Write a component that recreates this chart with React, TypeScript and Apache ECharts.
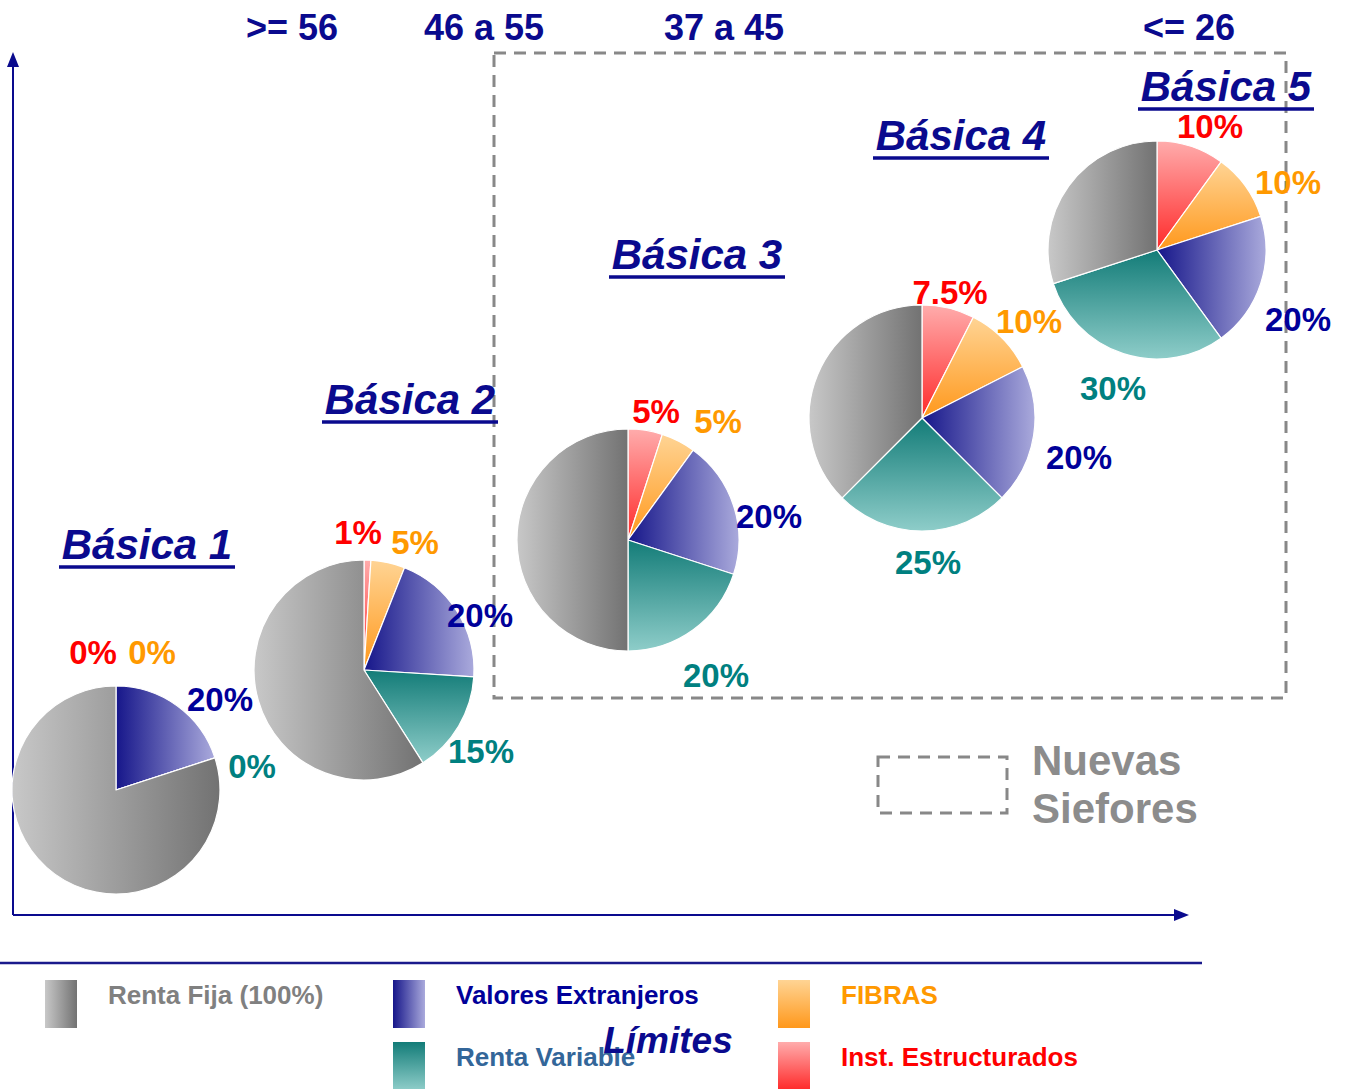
import React, { useEffect, useRef } from 'react';
import * as echarts from 'echarts';

// ---------- data ----------
const categories = ['Inst. Estructurados', 'FIBRAS', 'Valores Extranjeros', 'Renta Variable', 'Renta Fija (100%)'];
const funds = ['Básica 1', 'Básica 2', 'Básica 3', 'Básica 4', 'Básica 5'];
const instEstructurados = [0, 1, 5, 7.5, 10];
const fibras = [0, 5, 5, 10, 10];
const valoresExtranjeros = [20, 20, 20, 20, 20];
const rentaVariable = [0, 15, 20, 25, 30];
const rentaFija = [80, 59, 50, 37.5, 30];
const ageRanges = ['>= 56', '46 a 55', '37 a 45', '<= 26'];
const boxLegend = ['Nuevas', 'Siefores'];
const limitsLabel = 'Límites';

// ---------- layout / style ----------
const FONT = '"Liberation Sans", Arial, sans-serif';
const NAVY = '#0a0a8e';
const pieCenters = [[116, 790], [364, 670], [628, 540], [922, 418], [1157, 250]];
const pieRadii = [104, 110, 111, 113, 109];
const labelPos = [
  [[93, 652], [152, 652], [220, 699], [252, 766]],
  [[358, 532], [415, 542], [480, 615], [481, 751]],
  [[656, 411], [718, 421], [769, 516], [716, 675]],
  [[950, 292], [1029, 321], [1079, 457], [928, 562]],
  [[1210, 126], [1288, 182], [1298, 319], [1113, 388]],
];
const titleCenters = [[147, 544], [410, 399], [697, 254], [961, 135], [1226, 86]];
const headerX = [292, 484, 724, 1189];
const labelColors = ['#ff0000', '#ff9900', '#000099', '#008080'];

const lin = (x2: number, y2: number, c0: string, c1: string) => ({
  type: 'linear', x: 0, y: 0, x2, y2,
  colorStops: [{ offset: 0, color: c0 }, { offset: 1, color: c1 }],
});
const sliceColors = [
  lin(0, 1, '#ffacac', '#ff2a2a'),
  lin(0, 1, '#ffd494', '#ff981c'),
  lin(1, 0, '#16168a', '#aaaadc'),
  lin(0, 1, '#137c78', '#8ecdc9'),
  lin(1, 0, '#c8c8c8', '#727272'),
];
const legendColors = ['#ff0000', '#ff9900', '#000099', '#336699', '#808080'];
const legendPos = [[778, 1042], [778, 980], [393, 980], [393, 1042], [45, 980]];

export default function App() {
  const ref = useRef<HTMLDivElement>(null);
  useEffect(() => {
    if (!ref.current) return;
    const chart = echarts.init(ref.current, undefined, { renderer: 'svg' });
    const seriesValues = [instEstructurados, fibras, valoresExtranjeros, rentaVariable, rentaFija];

    const series = funds.map((f, i) => ({
      type: 'pie',
      name: f,
      center: pieCenters[i],
      radius: pieRadii[i],
      startAngle: 90,
      clockwise: true,
      avoidLabelOverlap: false,
      silent: true,
      itemStyle: { borderColor: '#ffffff', borderWidth: 1.2 },
      label: {
        show: true,
        position: 'outside',
        formatter: (p: any) => `${p.value}%`,
        fontSize: 33,
        fontWeight: 'bold',
        fontFamily: FONT,
      },
      labelLine: { show: false },
      labelLayout: (params: any) => {
        const pos = labelPos[i][params.dataIndex];
        if (!pos) return {};
        return { x: pos[0], y: pos[1], align: 'center', verticalAlign: 'middle' };
      },
      data: categories.map((c, k) => ({
        name: c,
        value: seriesValues[k][i],
        itemStyle: { color: sliceColors[k] },
        label: k < 4 ? { show: true, color: labelColors[k] } : { show: false },
      })),
    }));

    const graphic: any[] = [];
    // axes
    graphic.push({ type: 'line', shape: { x1: 13, y1: 64, x2: 13, y2: 915 }, style: { stroke: NAVY, lineWidth: 2 } });
    graphic.push({ type: 'polygon', shape: { points: [[13, 52], [7, 67], [19, 67]] }, style: { fill: NAVY } });
    graphic.push({ type: 'line', shape: { x1: 13, y1: 915, x2: 1176, y2: 915 }, style: { stroke: NAVY, lineWidth: 2 } });
    graphic.push({ type: 'polygon', shape: { points: [[1189, 915], [1174, 909], [1174, 921]] }, style: { fill: NAVY } });
    // dashed boxes
    graphic.push({ type: 'rect', shape: { x: 494, y: 53, width: 792, height: 645 }, style: { fill: 'none', stroke: '#888888', lineWidth: 3, lineDash: [12, 8] } });
    graphic.push({ type: 'rect', shape: { x: 878, y: 757, width: 129, height: 56 }, style: { fill: 'none', stroke: '#888888', lineWidth: 3, lineDash: [12, 8] } });
    boxLegend.forEach((t, k) => graphic.push({
      type: 'text', x: 1032, y: 760 + k * 48,
      style: { text: t, fill: '#8c8c8c', fontSize: 42, fontWeight: 'bold', fontFamily: FONT, align: 'left', verticalAlign: 'middle' },
    }));
    // bottom line
    graphic.push({ type: 'line', shape: { x1: 0, y1: 963, x2: 1202, y2: 963 }, style: { stroke: '#1a1a8c', lineWidth: 2.5 } });
    // headers
    ageRanges.forEach((t, k) => graphic.push({
      type: 'text', x: headerX[k], y: 27,
      style: { text: t, fill: NAVY, fontSize: 36, fontWeight: 'bold', fontFamily: FONT, align: 'center', verticalAlign: 'middle' },
    }));
    // titles
    funds.forEach((t, k) => {
      const [cx, cy] = titleCenters[k];
      graphic.push({
        type: 'text', x: cx, y: cy,
        style: { text: t, fill: NAVY, fontSize: 42, fontWeight: 'bold', fontStyle: 'italic', fontFamily: FONT, align: 'center', verticalAlign: 'middle' },
      });
      graphic.push({ type: 'line', shape: { x1: cx - 88, y1: cy + 23, x2: cx + 88, y2: cy + 23 }, style: { stroke: NAVY, lineWidth: 3.5 } });
    });
    // legend swatches
    categories.forEach((c, k) => {
      const [lx, ly] = legendPos[k];
      graphic.push({ type: 'rect', shape: { x: lx, y: ly, width: 32, height: 48 }, style: { fill: sliceColors[k] } });
      graphic.push({
        type: 'text', x: lx + 63, y: ly + 15,
        style: { text: c, fill: legendColors[k], fontSize: 26, fontWeight: 'bold', fontFamily: FONT, align: 'left', verticalAlign: 'middle' },
      });
    });
    graphic.push({
      type: 'text', x: 668, y: 1040,
      style: { text: limitsLabel, fill: NAVY, fontSize: 37, fontWeight: 'bold', fontStyle: 'italic', fontFamily: FONT, align: 'center', verticalAlign: 'middle' },
    });

    chart.setOption({
      animation: false,
      backgroundColor: '#ffffff',
      series,
      graphic,
    } as any);
    return () => chart.dispose();
  }, []);
  return <div ref={ref} style={{ position: 'absolute', left: 0, top: 0, width: 1351, height: 1089 }} />;
}
